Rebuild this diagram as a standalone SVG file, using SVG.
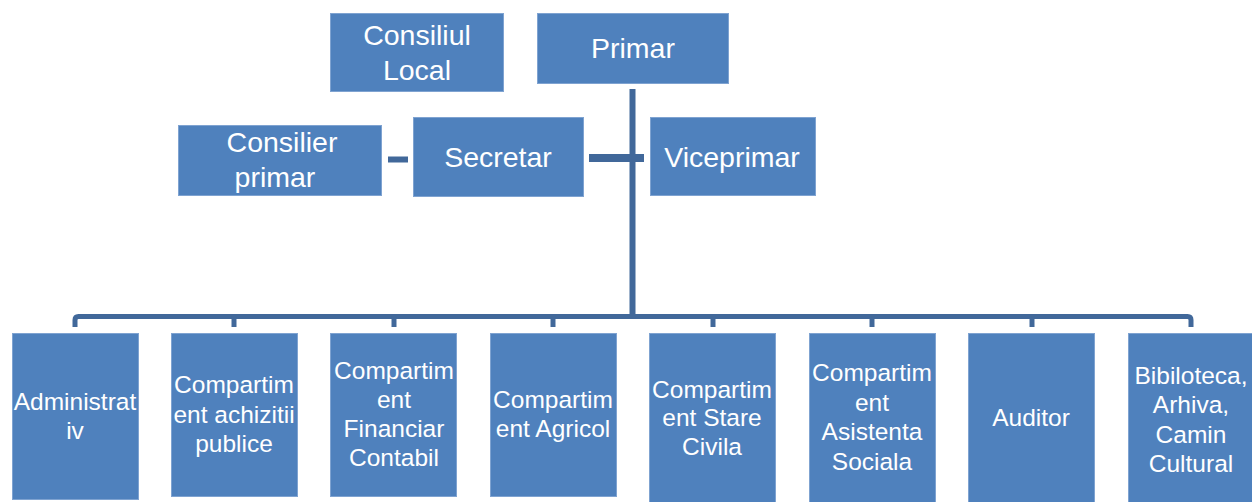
<svg xmlns="http://www.w3.org/2000/svg" width="1252" height="502" viewBox="0 0 1252 502">
<style>
.box{fill:#4F81BD;stroke:#7FA3D1;stroke-width:1}
.t{font-family:"Liberation Sans",Arial,sans-serif;fill:#FFFFFF;text-anchor:middle}
.big{font-size:28.5px}
.sm{font-size:24.5px}
.c{fill:none;stroke:#41689A;stroke-linecap:butt}
</style>
<rect width="1252" height="502" fill="#FFFFFF"/>
<g id="connectors">
<line class="c" x1="632.5" y1="89" x2="632.5" y2="317" stroke-width="6"/>
<line class="c" x1="589" y1="158" x2="644" y2="158" stroke-width="8"/>
<line class="c" x1="388" y1="159.5" x2="408" y2="159.5" stroke-width="6"/>
<path class="c" d="M75,327 V320 Q75,316.5 78.5,316.5 H1187.5 Q1191,316.5 1191,320 V327" stroke-width="5"/>
<line class="c" x1="234" y1="316" x2="234" y2="327" stroke-width="5"/>
<line class="c" x1="394" y1="316" x2="394" y2="327" stroke-width="5"/>
<line class="c" x1="553" y1="316" x2="553" y2="327" stroke-width="5"/>
<line class="c" x1="713" y1="316" x2="713" y2="327" stroke-width="5"/>
<line class="c" x1="872" y1="316" x2="872" y2="327" stroke-width="5"/>
<line class="c" x1="1032" y1="316" x2="1032" y2="327" stroke-width="5"/>
</g>
<g id="consiliul-local">
<rect class="box" x="330.5" y="13.5" width="173" height="78"/>
<text class="t big" x="417" y="45">Consiliul</text>
<text class="t big" x="417" y="80">Local</text>
</g>
<g id="primar">
<rect class="box" x="537.5" y="13.5" width="191" height="70"/>
<text class="t big" x="633" y="58">Primar</text>
</g>
<g id="consilier-primar">
<rect class="box" x="178.5" y="125.5" width="203" height="70"/>
<text class="t big" x="282" y="152">Consilier</text>
<text class="t big" x="275" y="187">primar</text>
</g>
<g id="secretar">
<rect class="box" x="413.5" y="117.5" width="170" height="79"/>
<text class="t big" x="498" y="167">Secretar</text>
</g>
<g id="viceprimar">
<rect class="box" x="650.5" y="117.5" width="165" height="78"/>
<text class="t big" x="732" y="167">Viceprimar</text>
</g>
<g id="administrativ">
<rect class="box" x="12.5" y="333.5" width="126" height="166"/>
<text class="t sm" x="75" y="410">Administrat</text>
<text class="t sm" x="75" y="439">iv</text>
</g>
<g id="achizitii">
<rect class="box" x="171.5" y="333.5" width="126" height="163"/>
<text class="t sm" x="234" y="393">Compartim</text>
<text class="t sm" x="234" y="423">ent achizitii</text>
<text class="t sm" x="234" y="452">publice</text>
</g>
<g id="financiar">
<rect class="box" x="330.5" y="333.5" width="126" height="163"/>
<text class="t sm" x="394" y="379">Compartim</text>
<text class="t sm" x="394" y="408">ent</text>
<text class="t sm" x="394" y="437">Financiar</text>
<text class="t sm" x="394" y="466">Contabil</text>
</g>
<g id="agricol">
<rect class="box" x="490.5" y="333.5" width="126" height="163"/>
<text class="t sm" x="553" y="408">Compartim</text>
<text class="t sm" x="553" y="437">ent Agricol</text>
</g>
<g id="stare-civila">
<rect class="box" x="649.5" y="333.5" width="126" height="170"/>
<text class="t sm" x="712" y="398">Compartim</text>
<text class="t sm" x="712" y="426">ent Stare</text>
<text class="t sm" x="712" y="455">Civila</text>
</g>
<g id="asistenta">
<rect class="box" x="809.5" y="333.5" width="126" height="170"/>
<text class="t sm" x="872" y="381">Compartim</text>
<text class="t sm" x="872" y="411">ent</text>
<text class="t sm" x="872" y="440">Asistenta</text>
<text class="t sm" x="872" y="470">Sociala</text>
</g>
<g id="auditor">
<rect class="box" x="968.5" y="333.5" width="126" height="170"/>
<text class="t sm" x="1031" y="426">Auditor</text>
</g>
<g id="biblioteca">
<rect class="box" x="1128.5" y="333.5" width="126" height="170"/>
<text class="t sm" x="1191" y="384">Bibiloteca,</text>
<text class="t sm" x="1191" y="413">Arhiva,</text>
<text class="t sm" x="1191" y="443">Camin</text>
<text class="t sm" x="1191" y="472">Cultural</text>
</g>
</svg>
